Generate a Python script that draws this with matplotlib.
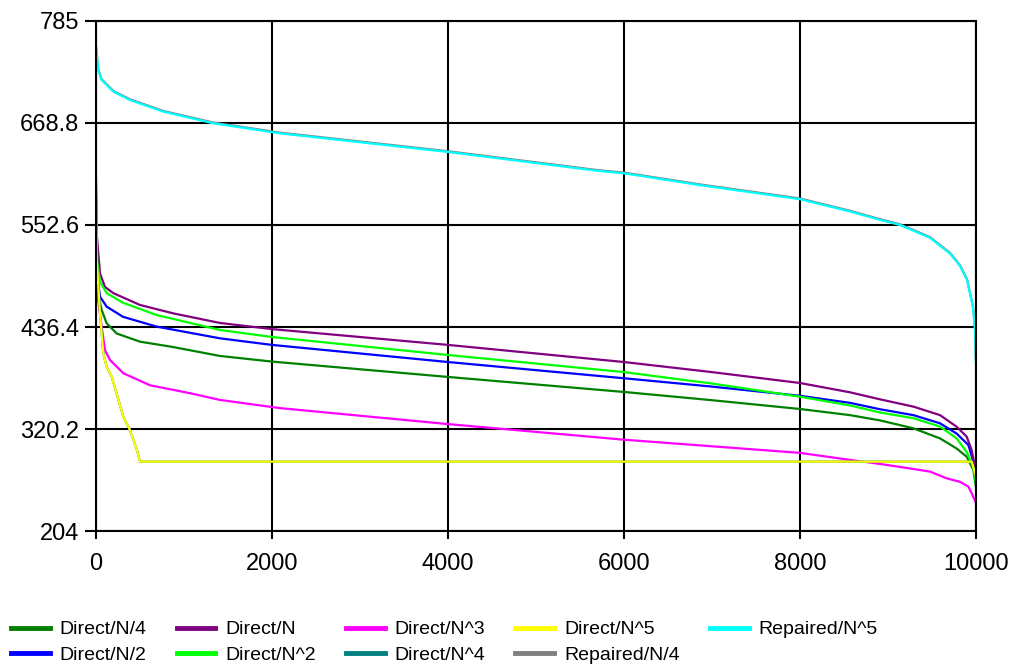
import matplotlib
matplotlib.use("Agg")
import matplotlib.pyplot as plt

plt.rcParams['font.family'] = ['Liberation Sans', 'DejaVu Sans']

# sampled values of each run (x = index, y = value)
x_n4 = [0, 20, 64, 121, 235, 500, 875, 1409, 2000, 4000, 6000, 7000, 8000, 8568, 8909, 9288, 9591, 9780, 9894, 9970, 10000]
y_n4 = [530, 475, 456, 440.6, 429, 419.7, 413.6, 403.4, 397, 379.5, 362.4, 353, 343, 336, 330, 321, 309.5, 298, 288.6, 273.5, 254]

x_n2 = [0, 15, 45, 121, 307, 690, 1409, 2000, 4000, 6000, 7000, 8000, 8568, 8909, 9288, 9591, 9780, 9913, 9977, 10000]
y_n2 = [545, 495, 471, 459.6, 448, 436.8, 423.5, 416, 396.5, 378, 368.5, 358, 350, 342.7, 336, 326.7, 315, 302, 281, 265]

x_n = [0, 10, 45, 102, 197, 500, 875, 1409, 2000, 4000, 6000, 7000, 8000, 8568, 8909, 9288, 9591, 9780, 9894, 9951, 9989, 10000]
y_n = [606, 540, 497.6, 482, 475, 461.5, 452, 441, 434, 416, 396.5, 385, 372.6, 362, 354, 345.7, 336, 322.8, 311.5, 296, 277, 265.5]

x_nsq = [0, 15, 45, 121, 307, 690, 1409, 2000, 4000, 6000, 7000, 8000, 8568, 8909, 9288, 9591, 9780, 9894, 9970, 10000]
y_nsq = [560, 510, 488, 475, 464, 450, 433, 425, 404.5, 385, 372, 357, 347, 339, 332.5, 323, 309.5, 294, 277, 259]

x_ncube = [0, 20, 64, 102, 159, 311, 614, 1068, 1409, 2090, 4000, 6000, 8000, 8568, 8909, 9136, 9477, 9667, 9818, 9913, 9951, 10000]
y_ncube = [520, 470, 436.8, 410, 398.8, 383.7, 370, 361, 353.3, 344, 325.8, 308, 293, 285, 280.4, 277, 271.7, 264, 260, 254.6, 247, 236]

x_n5 = [0, 8, 45, 83, 121, 178, 311, 386, 466, 500, 9951, 10000]
y_n5 = [575, 513, 452, 406.5, 391, 380, 334, 319, 296, 283, 283, 266]
x_n4th = x_n5
y_n4th = y_n5

x_rep5 = [0, 26, 64, 197, 386, 765, 1333, 2091, 4000, 5727, 6000, 6864, 8000, 8568, 8852, 9136, 9477, 9705, 9818, 9898, 9966, 9989, 10000]
y_rep5 = [755.7, 729, 717.8, 704.5, 695, 681.7, 668.5, 657, 635.8, 614, 611.5, 598, 582, 568, 560, 552.6, 538, 520, 506, 490, 459, 433, 395]
x_rep4 = x_rep5
y_rep4 = [756.5, 729.8, 718.6, 705.3, 695.8, 682.5, 669.3, 657.8, 636.6, 614.8, 612.3, 598.8, 582.8, 568.8, 560.8, 553.4, 538.8, 520.8, 506.8, 490.8, 459.8, 433.8, 395.8]

series = [
    ("Direct/N/4", x_n4, y_n4, "#008000"),
    ("Direct/N/2", x_n2, y_n2, "#0000ff"),
    ("Direct/N", x_n, y_n, "#800080"),
    ("Direct/N^2", x_nsq, y_nsq, "#00ff00"),
    ("Direct/N^3", x_ncube, y_ncube, "#ff00ff"),
    ("Direct/N^4", x_n4th, y_n4th, "#008080"),
    ("Direct/N^5", x_n5, y_n5, "#ffff00"),
    ("Repaired/N/4", x_rep4, y_rep4, "#808080"),
    ("Repaired/N^5", x_rep5, y_rep5, "#00ffff"),
]

x_ticks = [0, 2000, 4000, 6000, 8000, 10000]
y_ticks = [204, 320.2, 436.4, 552.6, 668.8, 785]

fig = plt.figure(figsize=(10.16, 6.66), dpi=100)
ax = fig.add_axes([96 / 1016, 1 - 531 / 666, 880 / 1016, 510 / 666])

for label, xs, ys, col in series:
    ax.plot(xs, ys, color=col, lw=1.6, label=label)

ax.set_xlim(0, 10000)
ax.set_ylim(204, 785)
ax.set_xticks(x_ticks)
ax.set_yticks(y_ticks)
ax.set_yticklabels(["204", "320.2", "436.4", "552.6", "668.8", "785"])
ax.grid(True, color="black", lw=1.5)
ax.set_axisbelow(True)
for s in ax.spines.values():
    s.set_linewidth(1.5)
ax.tick_params(axis="y", length=8, width=1.5, pad=4, labelsize=17)
ax.tick_params(axis="x", length=6, width=1.5, pad=10, labelsize=17)

# legend is laid out column by column in two rows
fig.legend(loc="upper left", bbox_to_anchor=(5 / 1016, 1 - 615 / 666), ncol=5,
           frameon=False, fontsize=14, handlelength=2.0, handletextpad=0.5,
           columnspacing=1.55, labelspacing=0.4, borderpad=0.3,
           borderaxespad=0.0)
for line in fig.legends[0].get_lines():
    line.set_linewidth(3.5)

fig.savefig("out.png", dpi=100)
